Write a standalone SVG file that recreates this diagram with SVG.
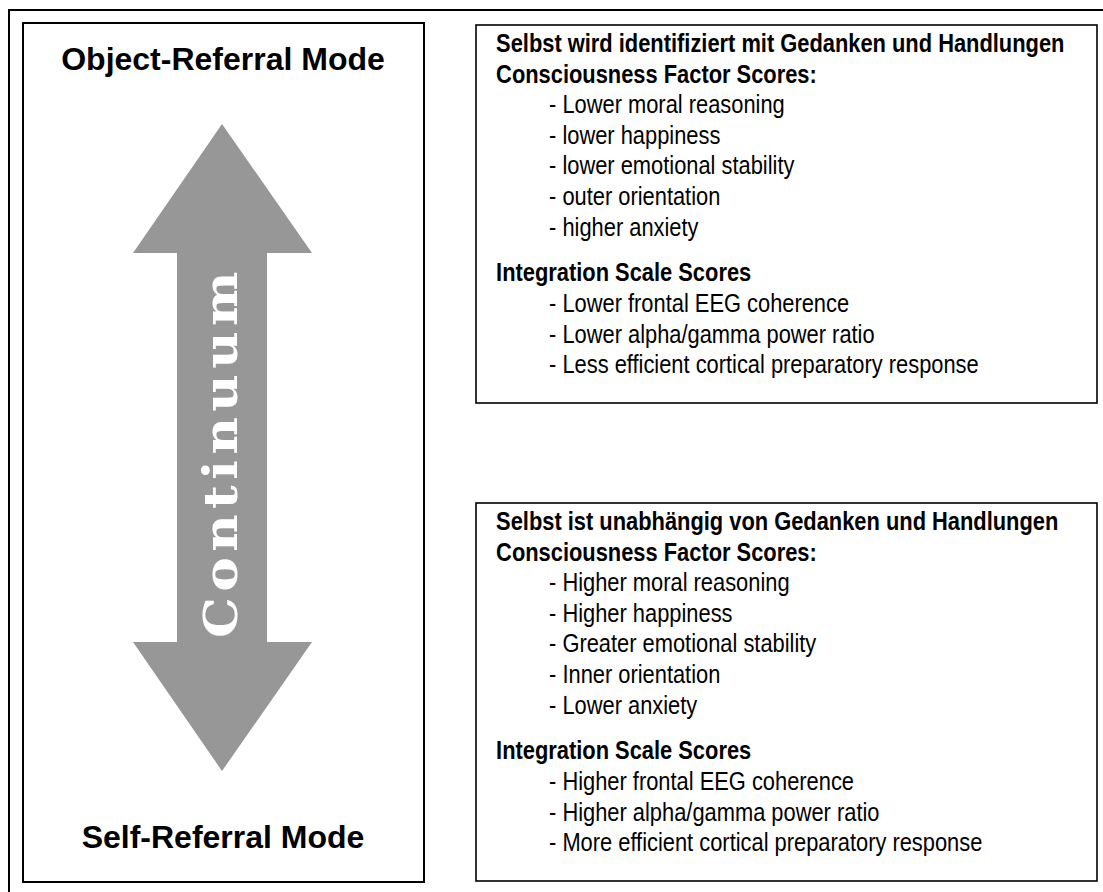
<svg xmlns="http://www.w3.org/2000/svg" width="1103" height="892" viewBox="0 0 1103 892">
<style>
.frame{fill:none;stroke:#000;stroke-width:2}
.box{fill:#fff;stroke:#000;stroke-width:1.6}
.mode{font-family:"Liberation Sans",Arial,sans-serif;font-weight:bold;font-size:32px;fill:#000;text-anchor:middle}
.h{font-family:"Liberation Sans",Arial,sans-serif;font-weight:bold;font-size:25px;fill:#000}
.t{font-family:"Liberation Sans",Arial,sans-serif;font-size:25px;fill:#000}
.cont{font-family:"DejaVu Serif","Liberation Serif",serif;font-weight:bold;font-size:47px;letter-spacing:5px;fill:#fff}
</style>
<rect width="1103" height="892" fill="#fff"/>
<rect id="outer-frame" class="frame" x="9" y="10" width="1100" height="900"/>
<g id="continuum-node">
<rect class="frame" x="23" y="23" width="401" height="859"/>
<text class="mode" x="223" y="70">Object-Referral Mode</text>
<text class="mode" x="223" y="848">Self-Referral Mode</text>
<polygon points="222,124 312,253 267,253 267,642 312,642 222,771 133,642 177,642 177,253 133,253" fill="#979797"/>
<text class="cont" transform="translate(237,638) rotate(-90)" x="0" y="0" textLength="372" lengthAdjust="spacingAndGlyphs">Continuum</text>
</g>
<g id="object-referral-box">
<rect class="box" x="476" y="25" width="621" height="378"/>
<g transform="scale(0.875,1)">
<text class="h" x="567" y="52">Selbst wird identifiziert mit Gedanken und Handlungen</text>
<text class="h" x="567" y="82.6">Consciousness Factor Scores:</text>
<text class="t" x="627.5" y="113.2">- Lower moral reasoning</text>
<text class="t" x="627.5" y="143.8">- lower happiness</text>
<text class="t" x="627.5" y="174.4">- lower emotional stability</text>
<text class="t" x="627.5" y="205">- outer orientation</text>
<text class="t" x="627.5" y="235.6">- higher anxiety</text>
<text class="h" x="567" y="281.5">Integration Scale Scores</text>
<text class="t" x="627.5" y="312.1">- Lower frontal EEG coherence</text>
<text class="t" x="627.5" y="342.7">- Lower alpha/gamma power ratio</text>
<text class="t" x="627.5" y="373.3">- Less efficient cortical preparatory response</text>
</g>
</g>
<g id="self-referral-box">
<rect class="box" x="476" y="503" width="621" height="378"/>
<g transform="scale(0.875,1)">
<text class="h" x="567" y="530">Selbst ist unabhängig von Gedanken und Handlungen</text>
<text class="h" x="567" y="560.6">Consciousness Factor Scores:</text>
<text class="t" x="627.5" y="591.2">- Higher moral reasoning</text>
<text class="t" x="627.5" y="621.8">- Higher happiness</text>
<text class="t" x="627.5" y="652.4">- Greater emotional stability</text>
<text class="t" x="627.5" y="683">- Inner orientation</text>
<text class="t" x="627.5" y="713.6">- Lower anxiety</text>
<text class="h" x="567" y="759.5">Integration Scale Scores</text>
<text class="t" x="627.5" y="790.1">- Higher frontal EEG coherence</text>
<text class="t" x="627.5" y="820.7">- Higher alpha/gamma power ratio</text>
<text class="t" x="627.5" y="851.3">- More efficient cortical preparatory response</text>
</g>
</g>
<g id="connectors"/>
</svg>
